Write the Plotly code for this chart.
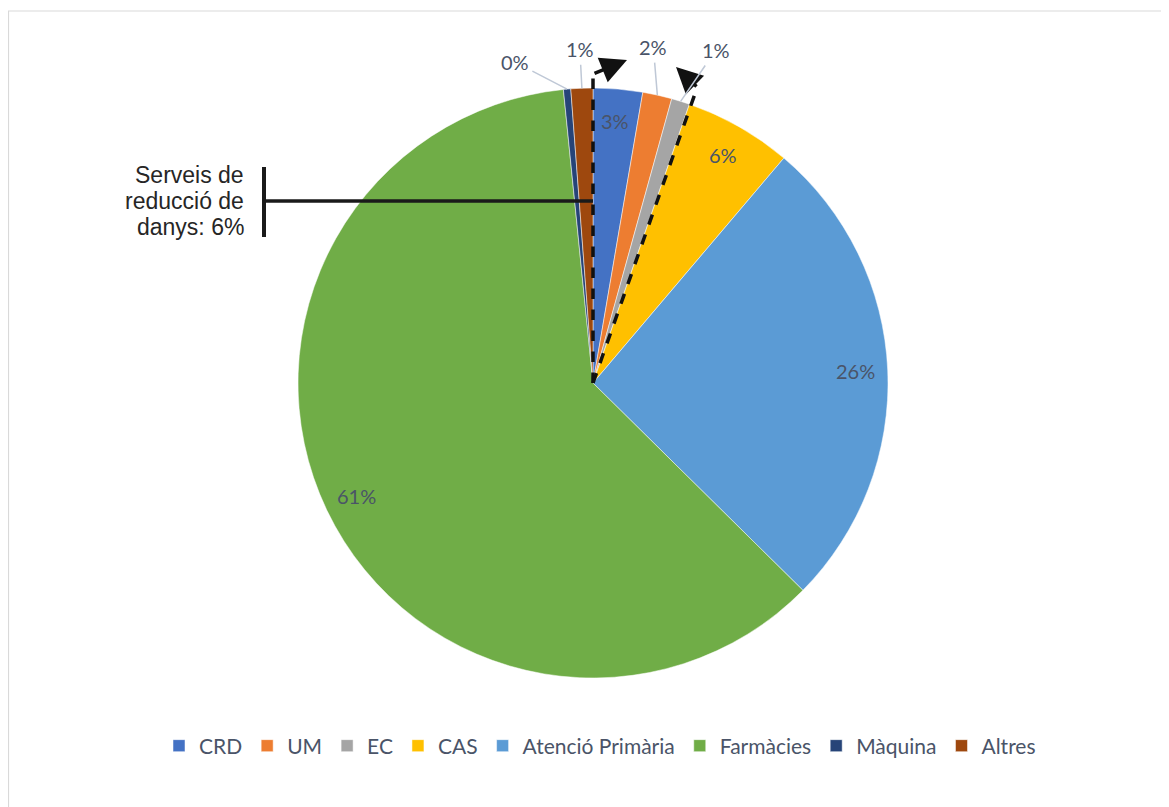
import math
import plotly.graph_objects as go

# ---- data ----
categories = ["CRD", "UM", "EC", "CAS", "Atenció Primària", "Farmàcies", "Màquina", "Altres"]
values = [2.7, 1.6, 1.0, 5.9, 26.2, 61.0, 0.4, 1.2]
colors = ["#4472C4", "#ED7D31", "#A5A5A5", "#FFC000", "#5B9BD5", "#70AD47", "#264478", "#9E480E"]
outside_labels = ["UM", "EC", "Màquina", "Altres"]
callout_lines = ["Serveis de", "reducció de", "danys: 6%"]

W, H = 1169, 807
OFF = 8  # page body margin in the screenshot


def fx(x):
    return (x - OFF) / W


def fy(y):
    return 1 - (y - OFF) / H


cx, cy, r = 593, 383, 295
label_color = "#4A5468"
label_font = dict(family="Lato", size=20, color=label_color)

fig = go.Figure()
fig.add_trace(go.Pie(
    labels=categories,
    values=values,
    sort=False,
    direction="clockwise",
    rotation=0,
    marker=dict(colors=colors, line=dict(color="white", width=0.5)),
    textinfo="none",
    hoverinfo="label+percent",
    domain=dict(x=[fx(cx - r), fx(cx + r)], y=[fy(cy + r), fy(cy - r)]),
))

shapes = []
# light frame (top and left edges visible)
shapes.append(dict(type="rect", xref="paper", yref="paper",
                   x0=fx(8.5), x1=fx(W + 30), y0=fy(H + 30), y1=fy(11),
                   line=dict(color="#D9D9D9", width=1.2), layer="below"))
# dashed bracket lines
shapes.append(dict(type="line", xref="paper", yref="paper",
                   x0=fx(593), y0=fy(383), x1=fx(593), y1=fy(74),
                   line=dict(color="#111111", width=3.5, dash="dash")))
shapes.append(dict(type="line", xref="paper", yref="paper",
                   x0=fx(593), y0=fy(383), x1=fx(697), y1=fy(88),
                   line=dict(color="#111111", width=3.5, dash="dash")))
# callout bracket
shapes.append(dict(type="line", xref="paper", yref="paper",
                   x0=fx(264), y0=fy(167), x1=fx(264), y1=fy(237),
                   line=dict(color="#1A1A1A", width=4)))
shapes.append(dict(type="line", xref="paper", yref="paper",
                   x0=fx(264), y0=fy(201), x1=fx(593), y1=fy(201),
                   line=dict(color="#1A1A1A", width=3.5)))

annotations = []
for i, line in enumerate(callout_lines):
    annotations.append(dict(xref="paper", yref="paper", x=fx(246), y=fy(175 + 26 * i),
                            xanchor="right", yanchor="middle", align="right",
                            text=line, showarrow=False,
                            font=dict(family="Liberation Sans", size=23, color="#262626")))
# bent arrows
annotations.append(dict(xref="paper", yref="paper", x=fx(627), y=fy(60),
                        ax=-34, ay=14, axref="pixel", ayref="pixel",
                        text="", showarrow=True, arrowhead=2, arrowsize=1.5,
                        arrowwidth=3.5, arrowcolor="#111111", standoff=0))
annotations.append(dict(xref="paper", yref="paper", x=fx(676), y=fy(67),
                        ax=22, ay=21, axref="pixel", ayref="pixel",
                        text="", showarrow=True, arrowhead=2, arrowsize=1.5,
                        arrowwidth=3.5, arrowcolor="#111111", standoff=0))

# data labels: inside ones at 0.89 r, outside ones with leader lines
total = sum(values)
label_offsets = {"UM": (-4, -48), "EC": (35, -51), "Màquina": (-52, -27), "Altres": (-2, -39)}
cum = 0.0
for cat, v in zip(categories, values):
    mid = (cum + v / 2) / total
    cum += v
    ang = 2 * math.pi * mid
    txt = f"{round(v / total * 100)}%"
    if cat in outside_labels:
        ex = cx + r * math.sin(ang)
        ey = cy - r * math.cos(ang)
        dx, dy = label_offsets[cat]
        annotations.append(dict(xref="paper", yref="paper", x=fx(ex), y=fy(ey),
                                ax=dx, ay=dy, axref="pixel", ayref="pixel",
                                text=txt, showarrow=True,
                                arrowhead=0, arrowwidth=1.5, arrowcolor="#BFC8D6",
                                standoff=0, startstandoff=2, font=label_font))
    else:
        lx = cx + 0.89 * r * math.sin(ang)
        ly = cy - 0.89 * r * math.cos(ang)
        annotations.append(dict(xref="paper", yref="paper", x=fx(lx), y=fy(ly),
                                xanchor="center", yanchor="middle",
                                text=txt, showarrow=False, font=label_font))

fig.update_layout(
    width=W, height=H,
    margin=dict(l=0, r=0, t=0, b=0),
    paper_bgcolor="white",
    plot_bgcolor="white",
    showlegend=True,
    legend=dict(orientation="h", x=fx(600), xanchor="center", y=fy(746), yanchor="middle",
                font=dict(family="Lato", size=21, color=label_color),
                itemwidth=30, traceorder="normal"),
    shapes=shapes,
    annotations=annotations,
)

fig.write_html("out.html")
